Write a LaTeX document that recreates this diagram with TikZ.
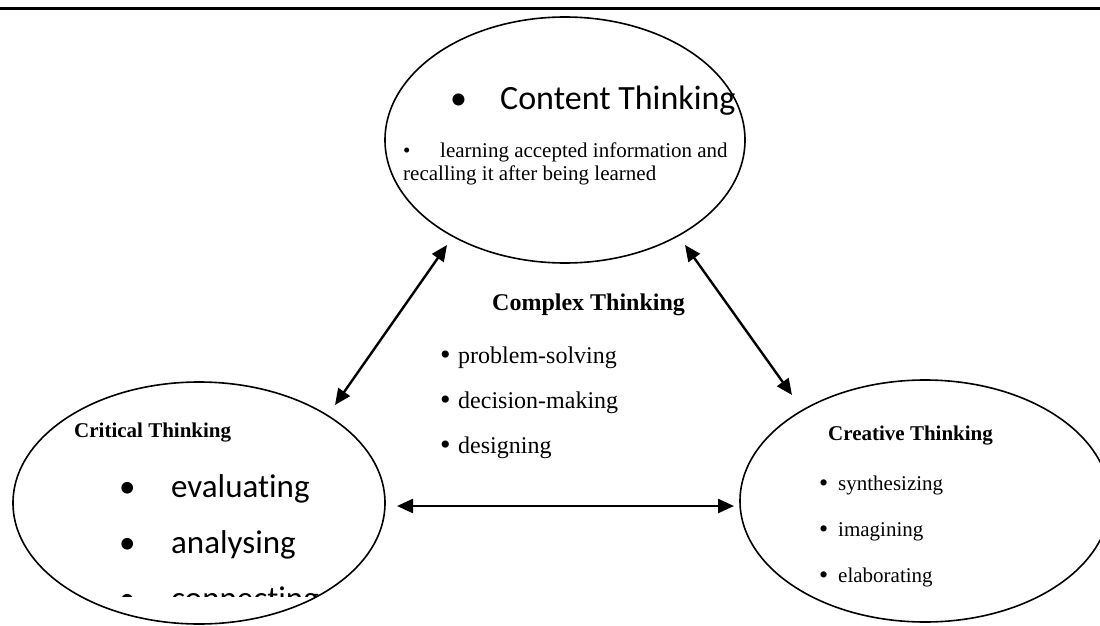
\documentclass[tikz,border=0pt]{standalone}
\usepackage{fontspec}
\setmainfont{Liberation Serif}
\newfontfamily\calib[Ligatures=NoCommon]{Carlito}
\usetikzlibrary{arrows.meta,shapes.geometric}
\newcommand{\bigbul}[2]{\raisebox{#2}{\fontsize{#1}{#1}\selectfont•}}
\begin{document}
\begin{tikzpicture}[x=1pt,y=-1pt,
  bubble/.style={ellipse, draw, line width=1.6pt, inner sep=0pt},
  txt/.style={inner sep=0pt, anchor=base west},
  conn/.style={{Triangle[length=16pt,width=14pt]}-{Triangle[length=16pt,width=14pt]}, line width=2.4pt},
  big/.style={font=\calib\fontsize{34}{40}\selectfont},
  mid/.style={font=\calib\fontsize{33}{40}\selectfont},
  ctr/.style={font=\fontsize{24}{28}\selectfont},
  sml/.style={font=\fontsize{21}{25}\selectfont},
  ttl/.style={font=\bfseries\fontsize{21}{25}\selectfont}]
\useasboundingbox (0,0) rectangle (1100,626);
\clip (0,0) rectangle (1100,626);
\fill[white] (0,0) rectangle (1100,626);
% top rule
\draw[line width=2.4pt] (0,8.5) -- (1100,8.5);
% ellipses
\node[bubble, minimum width=360pt, minimum height=246pt] (content) at (565,140) {};
\node[bubble, minimum width=372pt, minimum height=242pt] (critical) at (199,503) {};
\node[bubble, minimum width=370pt, minimum height=242pt] (creative) at (925,501) {};
% arrow ends
\coordinate (a1) at (447,245);
\coordinate (a2) at (335,405);
\coordinate (b1) at (685,245);
\coordinate (b2) at (792,395);
\coordinate (c1) at (397,506);
\coordinate (c2) at (734,506);
\draw[conn] (a2) -- (a1);
\draw[conn] (b1) -- (b2);
\draw[conn] (c1) -- (c2);
% content thinking
\node[txt, big] (ct) at (450,109) {\makebox[50pt][l]{•}Content Thinking};
\node[txt, sml] (ct1) at (403,157) {\makebox[37pt][l]{•}learning accepted information and};
\node[txt, sml] (ct2) at (403,180) {recalling it after being learned};
% complex thinking
\node[txt, font=\bfseries\fontsize{24}{28}\selectfont] (cx) at (492,310) {Complex Thinking};
\node[txt, ctr] (cx1) at (440,363) {\makebox[18pt][l]{\bigbul{30}{-1.6pt}}problem-solving};
\node[txt, ctr] (cx2) at (440,408) {\makebox[18pt][l]{\bigbul{30}{-1.6pt}}decision-making};
\node[txt, ctr] (cx3) at (440,453) {\makebox[18pt][l]{\bigbul{30}{-1.6pt}}designing};
% critical thinking
\node[txt, ttl] (cr) at (74,437) {Critical Thinking};
\node[txt, mid] (cr1) at (119,497) {\makebox[52pt][l]{•}evaluating};
\node[txt, mid] (cr2) at (119,553) {\makebox[52pt][l]{•}analysing};
\begin{scope}
\clip (0,0) rectangle (1100,596);
\node[txt, mid] (cr3) at (119,609) {\makebox[52pt][l]{•}connecting};
\end{scope}
% creative thinking
\node[txt, ttl] (cv) at (828,440) {Creative Thinking};
\node[txt, sml] (cv1) at (819,490) {\makebox[19pt][l]{\bigbul{26}{-1.3pt}}synthesizing};
\node[txt, sml] (cv2) at (819,536) {\makebox[19pt][l]{\bigbul{26}{-1.3pt}}imagining};
\node[txt, sml] (cv3) at (819,582) {\makebox[19pt][l]{\bigbul{26}{-1.3pt}}elaborating};
\end{tikzpicture}
\end{document}
